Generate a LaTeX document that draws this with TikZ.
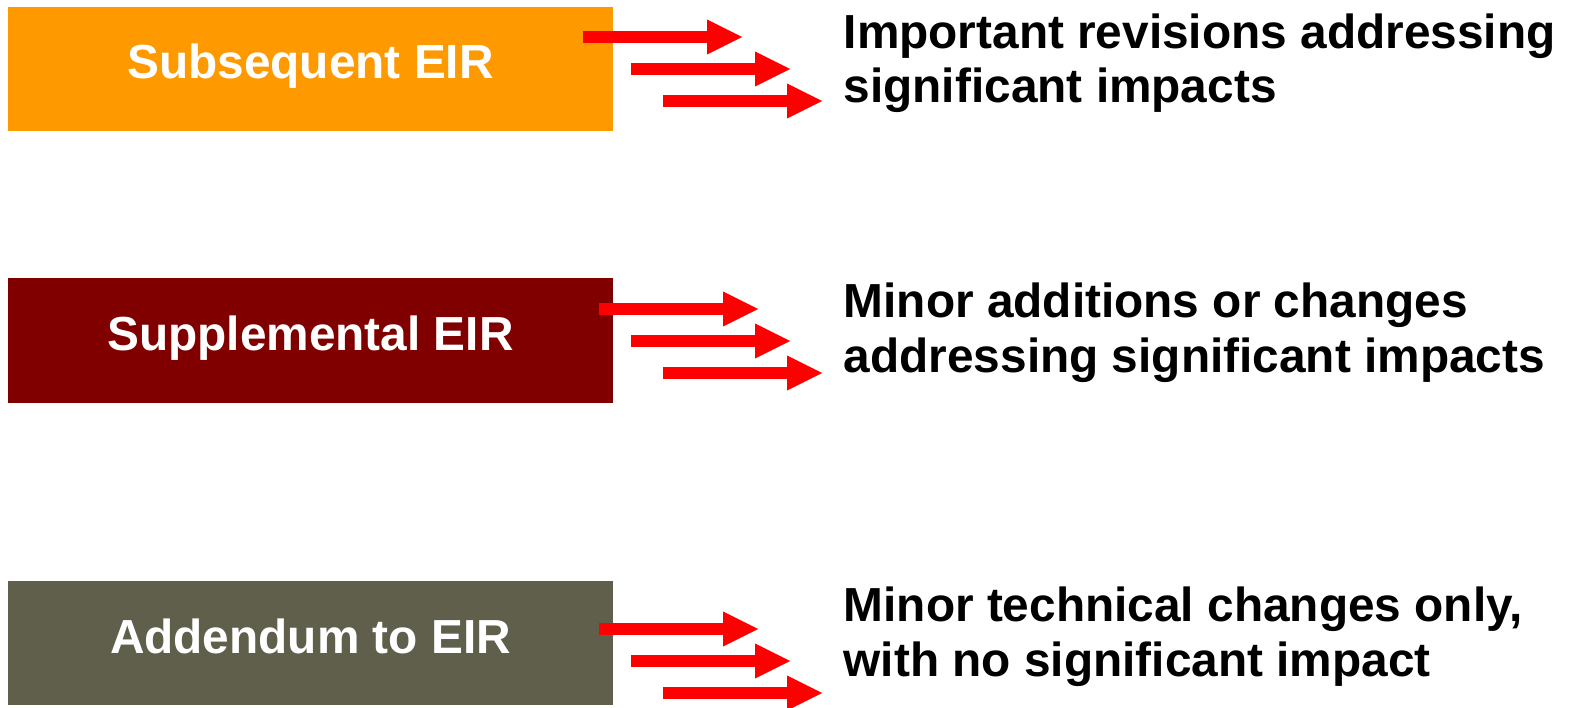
\documentclass[tikz,border=0pt]{standalone}
\usepackage{fontspec}
\setmainfont{Liberation Sans}
\usetikzlibrary{arrows.meta}
\definecolor{eirorange}{HTML}{FF9900}
\definecolor{eirmaroon}{HTML}{800000}
\definecolor{eirolive}{HTML}{5F5F4C}
\tikzset{
  eirbox/.style={minimum width=60.5mm, minimum height=12.4mm, inner sep=0pt,
    text=white, font=\fontsize{13.6pt}{15.3pt}\selectfont\bfseries,
    text height=3.5mm, text depth=1.5mm},
  eirnote/.style={anchor=base west, inner sep=0pt, align=left,
    font=\fontsize{13.6pt}{15.5pt}\selectfont\bfseries},
  eirarrow/.style={red, line width=1.2mm,
    -{Triangle[length=3.5mm,width=3.5mm,line width=0pt]}}
}
\begin{document}
\begin{tikzpicture}[x=0.1mm,y=-0.1mm]
\useasboundingbox (0,0) rectangle (1570,707);
\node[eirbox, fill=eirorange] (subs) at (310.5,69) {Subsequent EIR};
\node[eirbox, fill=eirmaroon] (supp) at (310.5,340.5) {Supplemental EIR};
\node[eirbox, fill=eirolive] (adden) at (310.5,643) {Addendum to EIR};
\node[eirnote] (subsnote) at (843,103) {Important revisions addressing\\significant impacts};
\node[eirnote] (suppnote) at (843,372) {Minor additions or changes\\addressing significant impacts};
\node[eirnote] (addennote) at (843,676) {Minor technical changes only,\\with no significant impact};
% arrows, subsequent
\coordinate (subs a1) at (583,37); \coordinate (subs b1) at (742,37);
\coordinate (subs a2) at (631,69); \coordinate (subs b2) at (790,69);
\coordinate (subs a3) at (663,101); \coordinate (subs b3) at (822,101);
\draw[eirarrow] (subs a1) -- (subs b1);
\draw[eirarrow] (subs a2) -- (subs b2);
\draw[eirarrow] (subs a3) -- (subs b3);
% arrows, supplemental
\coordinate (supp a1) at (599,309); \coordinate (supp b1) at (758,309);
\coordinate (supp a2) at (631,341); \coordinate (supp b2) at (790,341);
\coordinate (supp a3) at (663,373); \coordinate (supp b3) at (822,373);
\draw[eirarrow] (supp a1) -- (supp b1);
\draw[eirarrow] (supp a2) -- (supp b2);
\draw[eirarrow] (supp a3) -- (supp b3);
% arrows, addendum
\coordinate (adden a1) at (599,629); \coordinate (adden b1) at (758,629);
\coordinate (adden a2) at (631,661); \coordinate (adden b2) at (790,661);
\coordinate (adden a3) at (663,693); \coordinate (adden b3) at (822,693);
\draw[eirarrow] (adden a1) -- (adden b1);
\draw[eirarrow] (adden a2) -- (adden b2);
\draw[eirarrow] (adden a3) -- (adden b3);
\end{tikzpicture}
\end{document}
